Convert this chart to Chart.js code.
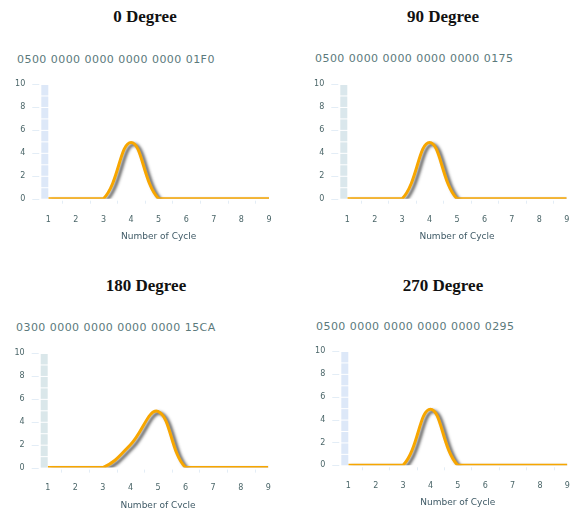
<!DOCTYPE html>
<html>
<head>
<meta charset="utf-8">
<script src="https://cdn.jsdelivr.net/npm/chart.js@4.4.1/dist/chart.umd.min.js"></script>
<style>
  html, body { margin: 0; padding: 0; background: #fff; }
  body { width: 573px; height: 508px; position: relative; overflow: hidden; }
  .title { position: absolute; transform: translate(-50%, -50%); font: bold 17px "Liberation Serif", "Times New Roman", serif; color: #111; white-space: nowrap; }
  .code { position: absolute; transform: translateY(-50%); font: 11px "DejaVu Sans", Verdana, sans-serif; letter-spacing: 0.45px; color: #5b7a7c; white-space: nowrap; }
  canvas { position: absolute; }
</style>
</head>
<body>
<script>
  // data
  const cycles = [1, 2, 3, 4, 5, 6, 7, 8, 9];
  const deg0 = [0, 0, 0, 4.9, 0, 0, 0, 0, 0];
  const deg90 = [0, 0, 0, 4.9, 0, 0, 0, 0, 0];
  const deg180 = [0, 0, 0, 2, 4.9, 0, 0, 0, 0];
  const deg270 = [0, 0, 0, 4.9, 0, 0, 0, 0, 0];
  const yTicks = [0, 2, 4, 6, 8, 10];
  const titles = ['0 Degree', '90 Degree', '180 Degree', '270 Degree'];
  const codes = [
    '0500 0000 0000 0000 0000 01F0',
    '0500 0000 0000 0000 0000 0175',
    '0300 0000 0000 0000 0000 15CA',
    '0500 0000 0000 0000 0000 0295',
  ];
  const series = [deg0, deg90, deg180, deg270];

  // layout of each panel (page pixels)
  const panels = [
    { x: 0, w: 290, area: { l: 48.3, r: 269, t: 84.3, b: 199 }, tx: 145, ty: 17, cx: 17, cy: 59, band: '#dde8f8' },
    { x: 290, w: 283, area: { l: 347.3, r: 566.7, t: 84.3, b: 199 }, tx: 443, ty: 17, cx: 315, cy: 58, band: '#dae7ec' },
    { x: 0, w: 290, area: { l: 47.7, r: 268.3, t: 352.7, b: 467.3 }, tx: 146, ty: 286, cx: 16, cy: 327, band: '#dae7ea' },
    { x: 290, w: 283, area: { l: 348.3, r: 567.3, t: 350.7, b: 465 }, tx: 443, ty: 286, cx: 316, cy: 326, band: '#dde8f8' },
  ];

  const TOP_PAD = 20;
  const X_AXIS_H = 43;
  const hiddenGrid = (len) => ({ display: true, drawOnChartArea: false, drawTicks: true, tickLength: len, color: 'rgba(0,0,0,0)' });

  const decorPlugin = {
    id: 'decor',
    beforeDatasetsDraw(chart, _args, opts) {
      const { ctx, chartArea, scales } = chart;
      const y = scales.y;
      ctx.save();
      // segmented strip left of the plot
      ctx.fillStyle = opts.band;
      for (let v = 0; v < 10; v++) {
        const y1 = y.getPixelForValue(v + 1);
        const y0 = y.getPixelForValue(v);
        ctx.fillRect(chartArea.left - 7, y1 + 1, 7, y0 - y1 - 1);
      }
      // faint tick marks
      ctx.strokeStyle = '#e3edf6';
      ctx.lineWidth = 1;
      yTicks.forEach((v) => {
        const py = Math.round(y.getPixelForValue(v)) + 0.5;
        ctx.beginPath();
        ctx.moveTo(chartArea.left - 16, py);
        ctx.lineTo(chartArea.left - 9, py);
        ctx.stroke();
      });
      cycles.slice(0, -1).forEach((c) => {
        const px = Math.round(scales.x.getPixelForValue(c + 0.5)) + 0.5;
        ctx.beginPath();
        ctx.moveTo(px, chartArea.bottom + 2);
        ctx.lineTo(px, chartArea.bottom + 5);
        ctx.stroke();
      });
      ctx.restore();
    },
    beforeDatasetDraw(chart) {
      const ctx = chart.ctx;
      ctx.save();
      ctx.shadowColor = 'rgba(50, 50, 50, 0.8)';
      ctx.shadowBlur = 3;
      ctx.shadowOffsetX = 3;
      ctx.shadowOffsetY = 2;
    },
    afterDatasetDraw(chart) {
      chart.ctx.restore();
    },
  };

  panels.forEach((p, i) => {
    const t = document.createElement('div');
    t.className = 'title';
    t.textContent = titles[i];
    t.style.left = p.tx + 'px';
    t.style.top = p.ty + 'px';
    document.body.appendChild(t);

    const c = document.createElement('div');
    c.className = 'code';
    c.textContent = codes[i];
    c.style.left = p.cx + 'px';
    c.style.top = p.cy + 'px';
    document.body.appendChild(c);

    const canvasTop = p.area.t - TOP_PAD;
    const height = Math.round(p.area.b - canvasTop + X_AXIS_H);
    const canvas = document.createElement('canvas');
    canvas.width = p.w;
    canvas.height = height;
    canvas.style.left = p.x + 'px';
    canvas.style.top = canvasTop + 'px';
    canvas.style.width = p.w + 'px';
    canvas.style.height = height + 'px';
    document.body.appendChild(canvas);

    const yWidth = p.area.l - p.x;
    const rightPad = p.x + p.w - p.area.r;
    const xHeight = height - (p.area.b - canvasTop);
    const tickFont = { family: '"DejaVu Sans", Verdana, sans-serif', size: 8 };

    new Chart(canvas, {
      type: 'line',
      data: {
        datasets: [{
          data: cycles.map((cy, k) => ({ x: cy, y: series[i][k] })),
          borderColor: '#f7a600',
          borderWidth: 3,
          pointRadius: 0,
          tension: 0.4,
          fill: false,
        }],
      },
      options: {
        responsive: false,
        animation: false,
        devicePixelRatio: 1,
        layout: { padding: { top: TOP_PAD, right: rightPad, left: 0, bottom: 0 } },
        plugins: { legend: { display: false }, tooltip: { enabled: false }, decor: { band: p.band } },
        scales: {
          x: {
            type: 'linear',
            min: 1,
            max: 9,
            afterFit: (scale) => { scale.height = xHeight; },
            grid: hiddenGrid(16),
            border: { display: false },
            ticks: { stepSize: 1, maxRotation: 0, padding: 0, color: '#4b6669', font: tickFont },
            title: {
              display: true,
              text: 'Number of Cycle',
              color: '#3f5a66',
              font: { family: '"DejaVu Sans", Verdana, sans-serif', size: 9 },
              padding: { top: 4, bottom: 0 },
            },
          },
          y: {
            min: 0,
            max: 10,
            afterFit: (scale) => { scale.width = yWidth; },
            afterBuildTicks: (scale) => { scale.ticks = yTicks.map((v) => ({ value: v })); },
            grid: hiddenGrid(22),
            border: { display: false },
            ticks: { padding: 1, color: '#4b6669', font: tickFont },
          },
        },
      },
      plugins: [decorPlugin],
    });
  });
</script>
</body>
</html>
